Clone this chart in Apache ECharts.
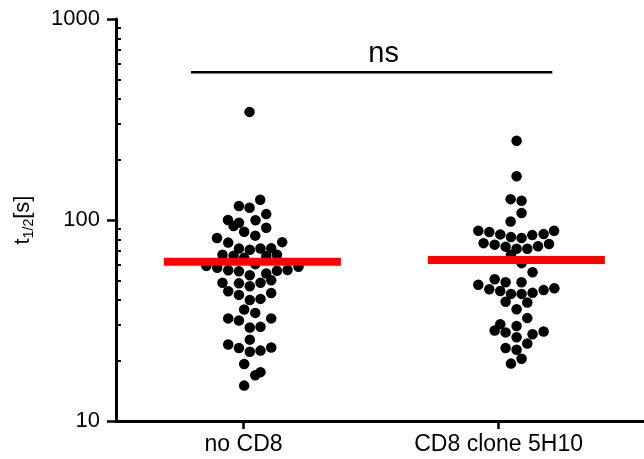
<!DOCTYPE html>
<html>
<head>
<meta charset="utf-8">
<script src="https://cdn.jsdelivr.net/npm/echarts@6/dist/echarts.min.js"></script>
<style>
  html, body { margin: 0; padding: 0; background: #fff; }
  #chart { width: 644px; height: 459px; }
</style>
</head>
<body>
<div id="chart"></div>
<script>
const categories = ["no CD8", "CD8 clone 5H10"];

// [horizontal jitter from the column centre, t1/2 in s]
const noCD8Points = [
  [0.047, 345], [0.131, 126], [-0.036, 117.5], [0.047, 115], [0.178, 107],
  [-0.122, 100], [0.094, 99.7], [-0.036, 96.9], [-0.078, 93.3], [0.178, 91.5],
  [0.005, 87.4], [-0.208, 81.3], [0.092, 83.6], [-0.120, 77.2], [0.303, 77.6],
  [-0.036, 72.2], [0.049, 71.1], [0.133, 72.2], [0.217, 72.4], [-0.165, 67.2],
  [-0.078, 66.4], [0.005, 64.8], [0.178, 66.3], [0.262, 67.2], [-0.292, 59.1],
  [-0.206, 57.9], [-0.120, 56.2], [-0.036, 55.6], [0.092, 60.3], [0.178, 54.2],
  [0.262, 55.9], [0.345, 56.4], [0.431, 58.5], [0.049, 53.1], [-0.165, 48.7],
  [-0.036, 48.4], [0.049, 46.8], [0.133, 48.7], [0.217, 50.1], [-0.120, 44.2],
  [-0.036, 42.4], [0.049, 40.0], [0.133, 40.5], [0.217, 43.3], [0.005, 35.9],
  [0.092, 34.5], [-0.120, 32.4], [-0.036, 31.6], [0.049, 29.2], [0.133, 29.4],
  [0.217, 32.4], [0.049, 25.4], [-0.120, 24.0], [-0.036, 23.1], [0.049, 22.1],
  [0.133, 22.4], [0.217, 23.2], [0.005, 19.2], [0.092, 16.9], [0.133, 17.5],
  [0.005, 15.0]
];

const clone5H10Points = [
  [0.141, 248], [0.141, 165], [0.094, 127], [0.180, 124.5], [0.180, 108.4],
  [0.094, 98.3], [-0.159, 88.4], [-0.073, 87.1], [0.013, 84.8], [0.097, 82.2],
  [0.180, 81.3], [0.264, 84.1], [0.353, 85.1], [0.435, 88.4], [-0.118, 76.7],
  [-0.031, 75.4], [0.055, 73.7], [0.141, 72.0], [0.225, 72.0], [0.309, 74.1],
  [0.395, 75.9], [0.097, 67.2], [0.180, 61.0], [0.266, 55.0], [-0.031, 50.7],
  [0.055, 49.0], [0.180, 49.0], [-0.159, 47.6], [-0.073, 45.2], [0.013, 44.3],
  [0.097, 42.9], [0.180, 42.9], [0.266, 43.4], [0.353, 44.8], [0.437, 45.8],
  [0.055, 39.2], [0.225, 38.9], [0.141, 36.0], [0.225, 32.5], [0.013, 30.3],
  [-0.031, 28.2], [0.055, 27.6], [0.141, 29.7], [0.141, 26.1], [0.266, 27.0],
  [0.353, 27.9], [0.225, 24.3], [0.055, 23.1], [0.141, 22.6], [0.180, 20.4],
  [0.097, 19.3]
];

const medians = [62.0, 63.2];
const yTicks = [10, 100, 1000];
const yMinorTicks = [20, 30, 40, 50, 60, 70, 80, 90, 200, 300, 400, 500, 600, 700, 800, 900];
const significanceLabel = "ns";
const significanceLevel = 543;

const groups = [noCD8Points, clone5H10Points];
const catX = (i) => i * 2 + 1;
const medianHalf = 0.694;
const font = "Liberation Sans, Arial, sans-serif";

const chart = echarts.init(document.getElementById("chart"));

const series = [];
groups.forEach((pts, i) => {
  series.push({
    type: "scatter",
    data: pts.map(([dx, v]) => [catX(i) + dx, v]),
    symbolSize: 10.5,
    itemStyle: { color: "#000", opacity: 1 },
    silent: true,
    z: 2,
  });
});
groups.forEach((pts, i) => {
  const offs = pts.map((p) => p[0]);
  const c = catX(i) + (Math.min(...offs) + Math.max(...offs)) / 2;
  series.push({
    type: "line",
    data: [[c - medianHalf, medians[i]], [c + medianHalf, medians[i]]],
    symbol: "none",
    lineStyle: { color: "#ff0000", width: 8, cap: "butt" },
    silent: true,
    z: 5,
  });
});

const bx0 = catX(0) - 0.412;
const bx1 = catX(1) + 0.421;
series.push({
  type: "line",
  data: [[bx0, significanceLevel], [bx1, significanceLevel]],
  symbol: "none",
  lineStyle: { color: "#000", width: 2.5 },
  silent: true,
});
series.push({
  type: "scatter",
  data: [[(bx0 + bx1) / 2, significanceLevel]],
  symbolSize: 0,
  itemStyle: { opacity: 1 },
  label: {
    show: true,
    position: "top",
    distance: 4,
    offset: [12, 0],
    formatter: significanceLabel,
    fontSize: 29,
    fontFamily: font,
    color: "#000",
  },
  silent: true,
});

chart.setOption({
  animation: false,
  grid: { left: 116, right: 0, top: 19, bottom: 38, outerBoundsMode: "none" },
  xAxis: {
    type: "value",
    min: 0,
    max: 4.14,
    splitLine: { show: false },
    axisLine: { lineStyle: { color: "#000", width: 3 } },
    axisTick: { customValues: categories.map((_, i) => catX(i)), length: 8, lineStyle: { color: "#000", width: 2.5 } },
    axisLabel: {
      customValues: categories.map((_, i) => catX(i)),
      formatter: (v) => categories[Math.round((v - 1) / 2)],
      fontSize: 23,
      fontFamily: font,
      color: "#000",
      margin: 12,
    },
  },
  yAxis: [
    {
      type: "log",
      logBase: 10,
      min: 10,
      max: 1000,
      position: "left",
      name: "{t|t}{sub|1/2}{t|[s]}",
      nameLocation: "middle",
      nameGap: 80,
      nameTextStyle: {
        rich: {
          t: { fontSize: 22, fontFamily: font, color: "#000", lineHeight: 26 },
          sub: { fontSize: 14, fontFamily: font, color: "#000", lineHeight: 14, verticalAlign: "bottom", padding: [8, 0, 0, 0] },
        },
      },
      splitLine: { show: false },
      axisLine: { lineStyle: { color: "#000", width: 3 } },
      axisTick: { customValues: yTicks, length: 9, lineStyle: { color: "#000", width: 2.5 } },
      axisLabel: { customValues: yTicks, formatter: (v) => String(Math.round(v)), fontSize: 22, fontFamily: font, color: "#000", margin: 16 },
    },
    {
      type: "log",
      logBase: 10,
      min: 10,
      max: 1000,
      position: "left",
      splitLine: { show: false },
      axisLine: { show: false },
      axisLabel: { show: false },
      axisTick: { customValues: yMinorTicks, inside: true, length: 5, lineStyle: { color: "#000", width: 2 } },
    },
  ],
  series: series,
});
</script>
</body>
</html>
